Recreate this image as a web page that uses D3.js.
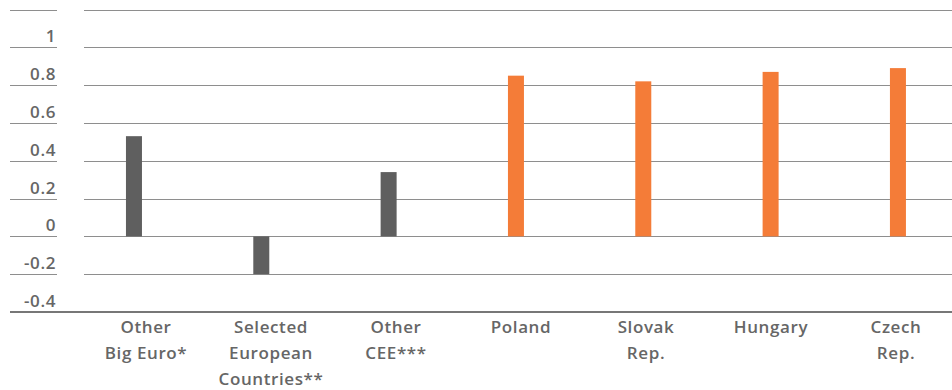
<!DOCTYPE html>
<html>
<head>
<meta charset="utf-8">
<script src="https://cdn.jsdelivr.net/npm/d3@7"></script>
<style>
  html, body { margin: 0; padding: 0; background: #fff; }
  svg { display: block; }
  text { font-family: "Open Sans", sans-serif; font-weight: 600; fill: #666; }
</style>
</head>
<body>
<svg id="chart" width="952" height="390"></svg>
<script>
const categories = [
  ["Other", "Big Euro*"],
  ["Selected", "European", "Countries**"],
  ["Other", "CEE***"],
  ["Poland"],
  ["Slovak", "Rep."],
  ["Hungary"],
  ["Czech", "Rep."]
];
const values = [0.53, -0.2, 0.34, 0.85, 0.82, 0.87, 0.89];
const barGroup = ["other", "other", "other", "cee", "cee", "cee", "cee"];
const tickValues = [-0.4, -0.2, 0, 0.2, 0.4, 0.6, 0.8, 1, 1.2];
const tickLabels = ["-0.4", "-0.2", "0", "0.2", "0.4", "0.6", "0.8", "1", ""];

const colors = { other: "#5f5f5f", cee: "#f47c38" };

const svg = d3.select("#chart");
const y = d3.scaleLinear().domain([-0.4, 1.2]).range([312, 9.5]);
const keys = categories.map((c, i) => i);
const xBar = d3.scalePoint().domain(keys).range([70.3, 961.6]).padding(0.5);
const xLab = d3.scalePoint().domain(keys).range([83.5, 958.5]).padding(0.5);
const barW = 16;

// gridlines (two segments: label column and plot area)
const grid = svg.append("g");
tickValues.forEach((v, i) => {
  if (v === -0.4) return;
  const yy = Math.round(y(v)) + 0.5;
  grid.append("line").attr("x1", 10).attr("x2", 57).attr("y1", yy).attr("y2", yy)
    .attr("stroke", "#8e8e8e").attr("stroke-width", 1.2);
  grid.append("line").attr("x1", 84).attr("x2", 952).attr("y1", yy).attr("y2", yy)
    .attr("stroke", "#8e8e8e").attr("stroke-width", 1.2);
});

// y labels
svg.append("g").selectAll("text").data(tickValues).join("text")
  .attr("x", 56).attr("y", d => y(d) - 5)
  .attr("text-anchor", "end")
  .style("font-size", "17px")
  .style("letter-spacing", "0.6px")
  .text((d, i) => tickLabels[i]);

// bars
svg.append("g").selectAll("rect").data(values).join("rect")
  .attr("x", (d, i) => xBar(i) - barW / 2)
  .attr("width", barW)
  .attr("y", d => y(Math.max(0, d)))
  .attr("height", d => Math.abs(y(d) - y(0)))
  .attr("fill", (d, i) => colors[barGroup[i]]);

// bottom axis
svg.append("line").attr("x1", 10).attr("x2", 952).attr("y1", y(-0.4)).attr("y2", y(-0.4))
  .attr("stroke", "#777").attr("stroke-width", 2.2);

// category labels
const lab = svg.append("g").selectAll("text").data(categories).join("text")
  .attr("text-anchor", "middle")
  .style("font-size", "17px")
  .style("letter-spacing", "0.6px");
lab.each(function(lines, i) {
  const t = d3.select(this);
  lines.forEach((ln, j) => {
    t.append("tspan").attr("x", xLab(i)).attr("y", 333 + j * 26).text(ln);
  });
});
</script>
</body>
</html>
